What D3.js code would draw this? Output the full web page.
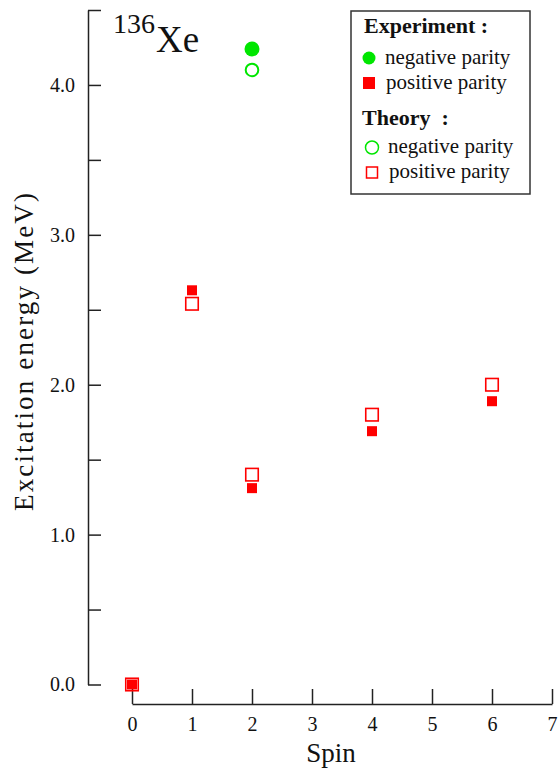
<!DOCTYPE html>
<html>
<head>
<meta charset="utf-8">
<script src="https://cdn.jsdelivr.net/npm/d3@7"></script>
<style>
  body { margin: 0; background: #fff; }
  svg { display: block; }
  text { font-family: "Liberation Serif", "Times New Roman", serif; fill: #111; }
</style>
</head>
<body>
<svg id="chart" width="559" height="768"></svg>
<script>
// Level scheme of 136Xe: excitation energy (MeV) versus spin
const spinTicks = [0, 1, 2, 3, 4, 5, 6, 7];
const energyTicks = [0, 0.5, 1, 1.5, 2, 2.5, 3, 3.5, 4, 4.5];

const expPosSpin = [0, 1, 2, 4, 6];
const expPosEnergy = [0.00, 2.63, 1.31, 1.69, 1.89];
const expNegSpin = [2];
const expNegEnergy = [4.24];

const thPosSpin = [0, 1, 2, 4, 6];
const thPosEnergy = [0.00, 2.54, 1.40, 1.80, 2.00];
const thNegSpin = [2];
const thNegEnergy = [4.10];

const legendExpLabels = ["negative parity", "positive parity"];
const legendThLabels = ["negative parity", "positive parity"];

const RED = "#ff0000";
const GREEN = "#00e600";
const AXIS = "#222";

const svg = d3.select("#chart");

const x = d3.scaleLinear().domain([0, 7]).range([132, 552]);
const y = d3.scaleLinear().domain([0, 4.5]).range([684.5, 10]);

const zip = (a, b) => a.map((s, i) => ({ spin: s, e: b[i] }));

// x axis: ticks point up into the plot, labels below
const xAxis = svg.append("g")
  .attr("transform", "translate(0,704)")
  .call(d3.axisBottom(x).tickValues(spinTicks).tickSizeInner(-15).tickSizeOuter(0)
    .tickPadding(13).tickFormat(d3.format("d")));

// y axis: ticks point right, labels only on whole MeV values
const yAxis = svg.append("g")
  .attr("transform", "translate(88,0)")
  .call(d3.axisLeft(y).tickValues(energyTicks).tickSizeInner(-13).tickSizeOuter(0)
    .tickPadding(13).tickFormat(d => Number.isInteger(d) ? d.toFixed(1) : ""));

[xAxis, yAxis].forEach(g => {
  g.attr("font-family", null).attr("font-size", null);
  g.selectAll("path.domain, .tick line").attr("stroke", AXIS).attr("stroke-width", 1.5);
  g.selectAll(".tick text").style("font-size", "20px").attr("fill", "#111");
});

// axis titles
svg.append("text")
  .attr("x", 331).attr("y", 762)
  .attr("text-anchor", "middle")
  .style("font-size", "27px")
  .text("Spin");

svg.append("text")
  .attr("transform", "translate(33,352) rotate(-90)")
  .attr("text-anchor", "middle")
  .attr("textLength", 318).attr("lengthAdjust", "spacing")
  .style("font-size", "27px")
  .text("Excitation energy (MeV)");

// nucleus label
const title = svg.append("text").attr("x", 113).attr("y", 33);
title.append("tspan").style("font-size", "28px").text("136");
title.append("tspan").attr("x", 156).attr("y", 52).style("font-size", "37px").text("Xe");

// theory: open markers
svg.append("g").selectAll("rect")
  .data(zip(thPosSpin, thPosEnergy)).join("rect")
  .attr("x", d => x(d.spin) - 6.25).attr("y", d => y(d.e) - 6.25)
  .attr("width", 12.5).attr("height", 12.5)
  .attr("fill", "none").attr("stroke", RED).attr("stroke-width", 1.6);

svg.append("g").selectAll("circle")
  .data(zip(thNegSpin, thNegEnergy)).join("circle")
  .attr("cx", d => x(d.spin)).attr("cy", d => y(d.e)).attr("r", 6.3)
  .attr("fill", "none").attr("stroke", GREEN).attr("stroke-width", 2);

// experiment: filled markers
svg.append("g").selectAll("rect")
  .data(zip(expPosSpin, expPosEnergy)).join("rect")
  .attr("x", d => x(d.spin) - 5).attr("y", d => y(d.e) - 5)
  .attr("width", 10).attr("height", 10)
  .attr("fill", RED);

svg.append("g").selectAll("circle")
  .data(zip(expNegSpin, expNegEnergy)).join("circle")
  .attr("cx", d => x(d.spin)).attr("cy", d => y(d.e)).attr("r", 7.5)
  .attr("fill", GREEN);

// legend
const lg = svg.append("g");
lg.append("rect")
  .attr("x", 351).attr("y", 11).attr("width", 179).attr("height", 183)
  .attr("fill", "#fff").attr("stroke", "#333").attr("stroke-width", 1.5);

lg.append("text").attr("x", 364).attr("y", 33)
  .style("font-size", "22px").style("font-weight", "bold").text("Experiment :");
lg.append("circle").attr("cx", 369).attr("cy", 58).attr("r", 6.5).attr("fill", GREEN);
lg.append("text").attr("x", 385).attr("y", 64).style("font-size", "21px").text(legendExpLabels[0]);
lg.append("rect").attr("x", 363).attr("y", 77).attr("width", 12).attr("height", 12).attr("fill", RED);
lg.append("text").attr("x", 386).attr("y", 89).style("font-size", "21px").text(legendExpLabels[1]);

lg.append("text").attr("x", 362).attr("y", 125)
  .style("font-size", "22px").style("font-weight", "bold").style("white-space", "pre").text("Theory  :");
lg.append("circle").attr("cx", 372).attr("cy", 147.5).attr("r", 6.5)
  .attr("fill", "none").attr("stroke", GREEN).attr("stroke-width", 1.5);
lg.append("text").attr("x", 388).attr("y", 153).style("font-size", "21px").text(legendThLabels[0]);
lg.append("rect").attr("x", 366.5).attr("y", 167).attr("width", 11).attr("height", 11)
  .attr("fill", "none").attr("stroke", RED).attr("stroke-width", 1.5);
lg.append("text").attr("x", 389).attr("y", 178).style("font-size", "21px").text(legendThLabels[1]);
</script>
</body>
</html>
